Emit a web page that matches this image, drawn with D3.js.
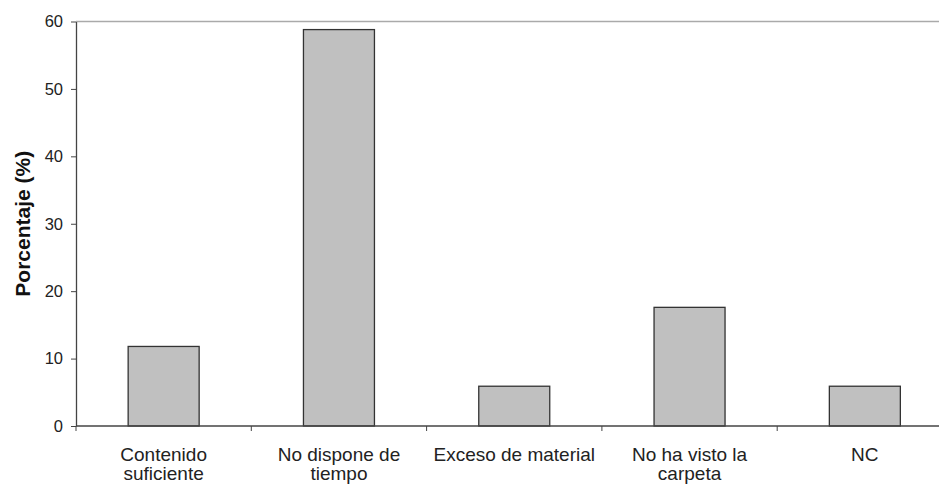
<!DOCTYPE html>
<html>
<head>
<meta charset="utf-8">
<script src="https://cdn.jsdelivr.net/npm/d3@7"></script>
<style>
  body { margin: 0; background: #fff; }
  svg { display: block; font-family: "Liberation Sans", Arial, sans-serif; }
</style>
</head>
<body>
<div id="chart"></div>
<script>
// chart data
const categories = [
  ["Contenido", "suficiente"],
  ["No dispone de", "tiempo"],
  ["Exceso de material"],
  ["No ha visto la", "carpeta"],
  ["NC"]
];
const values = [11.8, 58.8, 5.9, 17.6, 5.9];
const yTicks = [0, 10, 20, 30, 40, 50, 60];

const W = 939, H = 484;
const margin = {top: 21.5, left: 76, bottom: 58};
const step = 175.3;
const plotW = step * categories.length;

const svg = d3.select("#chart")
  .append("svg")
    .attr("width", W)
    .attr("height", H);

const x = d3.scaleBand()
  .domain(d3.range(categories.length))
  .range([margin.left, margin.left + plotW])
  .paddingInner(0.595)
  .paddingOuter(0.2975);

const y = d3.scaleLinear()
  .domain([0, 60])
  .range([H - margin.bottom, margin.top]);

// top border of plot area
svg.append("line")
  .attr("x1", margin.left).attr("x2", margin.left + plotW)
  .attr("y1", y(60)).attr("y2", y(60))
  .attr("stroke", "#aaa")
  .attr("stroke-width", 1.5);

// bars
svg.append("g")
  .selectAll("rect")
  .data(values)
  .join("rect")
    .attr("x", (d, i) => x(i))
    .attr("y", d => y(d))
    .attr("width", x.bandwidth())
    .attr("height", d => y(0) - y(d))
    .attr("fill", "#c0c0c0")
    .attr("stroke", "#333")
    .attr("stroke-width", 1.3);

// y axis
const yAxis = svg.append("g")
  .attr("transform", "translate(" + margin.left + ",0)")
  .call(d3.axisLeft(y).tickValues(yTicks).tickSize(5).tickPadding(8).tickSizeOuter(0));
yAxis.select(".domain").attr("stroke", "#444").attr("stroke-width", 1.3);
yAxis.selectAll(".tick line").attr("stroke", "#444");
yAxis.selectAll(".tick text")
  .attr("fill", "#222")
  .style("font-size", "16.5px")
  .style("font-family", "'Liberation Sans', Arial, sans-serif");

// x axis: ticks at category boundaries
const xAxis = svg.append("g")
  .attr("transform", "translate(0," + y(0) + ")");
xAxis.append("line")
  .attr("x1", margin.left).attr("x2", margin.left + plotW)
  .attr("stroke", "#444").attr("stroke-width", 1.3);
xAxis.selectAll("line.tk")
  .data(d3.range(categories.length + 1))
  .join("line")
    .attr("class", "tk")
    .attr("x1", i => margin.left + i * step)
    .attr("x2", i => margin.left + i * step)
    .attr("y1", 0).attr("y2", 5)
    .attr("stroke", "#444");

// category labels
const labels = xAxis.selectAll("text")
  .data(categories)
  .join("text")
    .attr("x", (d, i) => x(i) + x.bandwidth() / 2)
    .attr("y", 35)
    .attr("text-anchor", "middle")
    .attr("fill", "#222")
    .style("font-size", "19px");
labels.selectAll("tspan")
  .data(d => d)
  .join("tspan")
    .attr("x", function() { return d3.select(this.parentNode).attr("x"); })
    .attr("dy", (d, i) => i === 0 ? 0 : 19)
    .text(d => d);

// y title
svg.append("text")
  .attr("transform", "translate(30," + (y(30)) + ") rotate(-90)")
  .attr("text-anchor", "middle")
  .attr("fill", "#111")
  .style("font-size", "21px")
  .style("font-weight", "bold")
  .text("Porcentaje (%)");
</script>
</body>
</html>
